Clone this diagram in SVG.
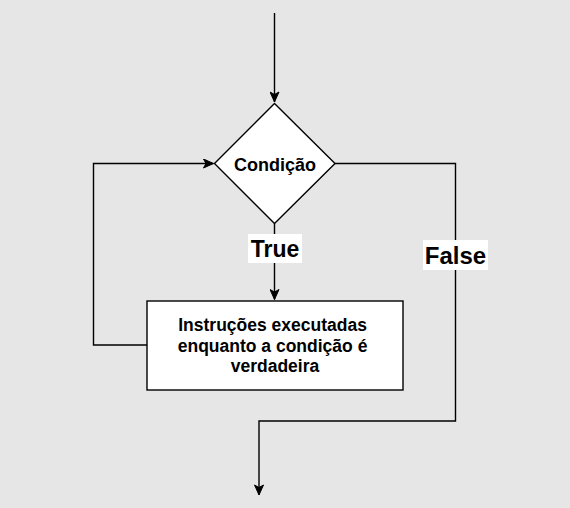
<svg xmlns="http://www.w3.org/2000/svg" width="570" height="508" viewBox="0 0 570 508">
  <style>
    .edge { fill: none; stroke: #000; stroke-width: 1.4; }
    .shape { fill: #fff; stroke: #000; stroke-width: 1.4; }
    .txt { font-family: "Liberation Sans", Arial, Helvetica, sans-serif; font-weight: bold; fill: #000; text-anchor: middle; }
    .lbl { fill: #fff; }
  </style>
  <defs>
    <marker id="arrow" markerUnits="userSpaceOnUse" markerWidth="12" markerHeight="10" viewBox="0 0 12 10" refX="11" refY="5" orient="auto">
      <path d="M1,0.5 L11,5 L1,9.5 L3.5,5 Z" fill="#000" stroke="#000" stroke-width="1"/>
    </marker>
  </defs>
  <rect x="0" y="0" width="570" height="508" fill="#e6e6e6"/>
  <g id="connectors">
    <path class="edge" d="M274.5,13 L274.5,102" marker-end="url(#arrow)"/>
    <path class="edge" d="M274.5,223.5 L274.5,299.5" marker-end="url(#arrow)"/>
    <path class="edge" d="M147,345 L93.5,345 L93.5,163.5 L213.5,163.5" marker-end="url(#arrow)"/>
    <path class="edge" d="M335,163.5 L455.5,163.5 L455.5,421 L259,421 L259,495" marker-end="url(#arrow)"/>
    <g id="label-true">
      <rect class="lbl" x="248" y="234" width="54" height="29"/>
      <text class="txt" x="275" y="257" font-size="23">True</text>
    </g>
    <g id="label-false">
      <rect class="lbl" x="423" y="240" width="65" height="30"/>
      <text class="txt" x="455.5" y="264" font-size="24">False</text>
    </g>
  </g>
  <g id="node-condicao">
    <path class="shape" d="M274.5,103.5 L335,163.5 L274.5,223.5 L214.5,163.5 Z"/>
    <text class="txt" x="275" y="170.5" font-size="18">Condição</text>
  </g>
  <g id="node-instrucoes">
    <rect class="shape" x="147" y="301" width="256" height="89"/>
    <text class="txt" font-size="17.5">
      <tspan x="275" y="331">Instruções executadas</tspan>
      <tspan x="275" y="351.5">enquanto a condição é</tspan>
      <tspan x="275" y="372">verdadeira</tspan>
    </text>
  </g>
</svg>
